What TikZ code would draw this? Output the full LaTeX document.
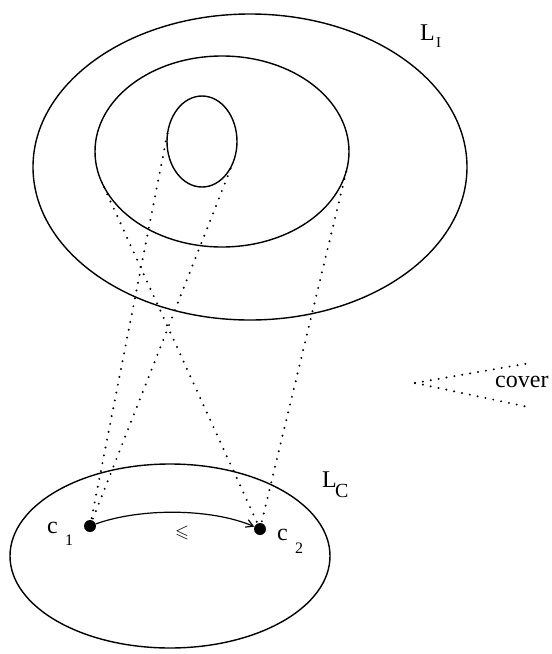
\documentclass[tikz,border=0pt]{standalone}
\usepackage{amssymb}
\usepackage{fontspec}
\setmainfont{Liberation Serif}
\usetikzlibrary{shapes.geometric,arrows.meta}
\tikzset{
  setoval/.style={ellipse, draw, line width=1.4pt, inner sep=0pt, outer sep=0pt},
  coverline/.style={line width=2.2pt, line cap=round, dash pattern=on 0pt off 8pt},
  elem/.style={circle, fill=black, inner sep=0pt, minimum size=12pt},
  lbl/.style={inner sep=0pt, anchor=base west},
  big/.style={font=\fontsize{24}{24}\selectfont},
  sub/.style={font=\fontsize{16}{16}\selectfont}
}
\begin{document}
\begin{tikzpicture}[x=1pt, y=-1pt]
\useasboundingbox (0,0) rectangle (552,654);
% sets
\node[setoval, minimum width=434pt, minimum height=306pt] (LI) at (250,167) {};
\node[setoval, minimum width=254pt, minimum height=191pt] (mid) at (222,151.5) {};
\node[setoval, minimum width=70pt, minimum height=91pt] (inn) at (202,141.5) {};
\node[setoval, minimum width=320pt, minimum height=184pt] (LC) at (170,556) {};
% elements
\node[elem] (c1) at (90,526) {};
\node[elem] (c2) at (260,529) {};
% tangent points
\coordinate (iL) at (168.1,130.2);
\coordinate (iR) at (233.2,162.2);
\coordinate (mL) at (101.9,182.5);
\coordinate (mR) at (347.0,168.5);
% cover lines
\draw[coverline] (c1.center) -- (iL);
\draw[coverline] (c1.center) -- (iR);
\draw[coverline] (c2.center) -- (mL);
\draw[coverline] (c2.center) -- (mR);
% order arrow
\draw[line width=1.2pt, -{Straight Barb[length=7pt,width=8pt]}] (c1) .. controls (140,508) and (210,508) .. (c2);
% labels
\node[lbl, big] (Ltxt1) at (420,40) {L};
\node[lbl, font=\fontsize{15}{15}\selectfont] (Lsub1) at (436,47) {I};
\node[lbl, big] (Ltxt2) at (322,487) {L};
\node[lbl, font=\fontsize{20}{20}\selectfont] (Lsub2) at (335,497) {C};
\node[lbl, big] (c1t) at (47,533) {c};
\node[lbl, sub] (c1s) at (65,545) {1};
\node[lbl, big] (c2t) at (277,540) {c};
\node[lbl, sub] (c2s) at (295,553) {2};
\node[inner sep=0pt, font=\fontsize{18}{18}\selectfont] (leq) at (182,533) {$\leqslant$};
% legend
\coordinate (apex) at (415,383);
\coordinate (up) at (530,363);
\coordinate (lo) at (528,407);
\draw[coverline] (apex) -- (up);
\draw[coverline] (apex) -- (lo);
\node[lbl, big] (cov) at (495,387) {cover};
\end{tikzpicture}
\end{document}
